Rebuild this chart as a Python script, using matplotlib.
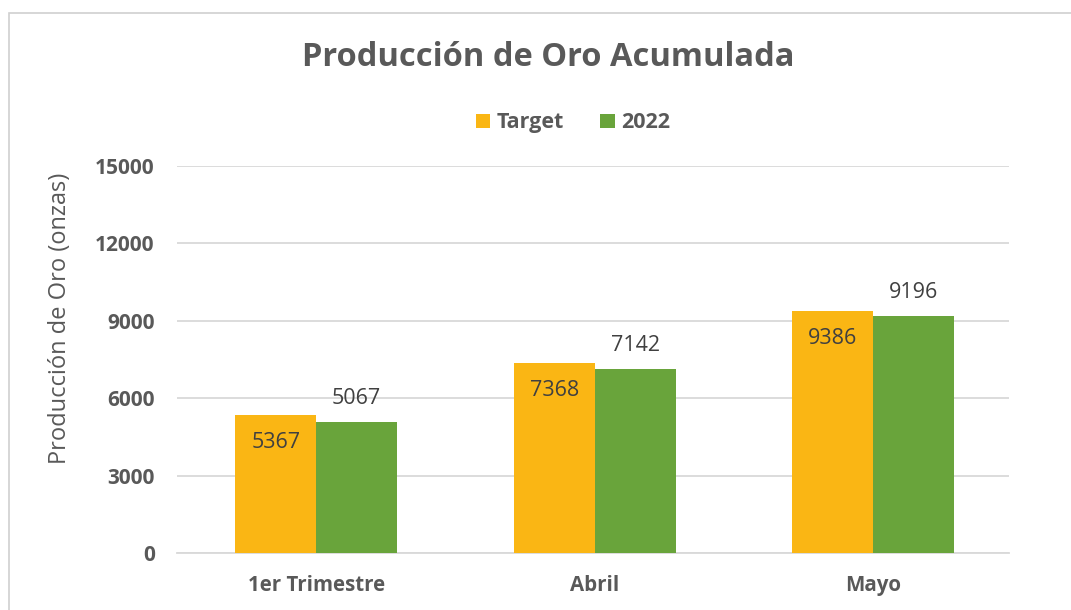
import matplotlib
matplotlib.use('Agg')
import matplotlib.pyplot as plt
from matplotlib.patches import Rectangle
import numpy as np

categories = ['1er Trimestre', 'Abril', 'Mayo']
target = [5367, 7368, 9386]
real_2022 = [5067, 7142, 9196]
yticks = [0, 3000, 6000, 9000, 12000, 15000]

plt.rcParams['font.family'] = ['Open Sans', 'DejaVu Sans']

fig = plt.figure(figsize=(10.71, 6.10), dpi=100)
ax = fig.add_axes([177/1071, 57/610, 832/1071, 387/610])

# chart border (left + top visible)
fig.patches.append(Rectangle((9/1071, -0.1), 1.2, 1.1 - 13/610, transform=fig.transFigure,
                             fill=False, edgecolor='#d0d0d0', linewidth=1.2))

x = np.arange(len(categories))
w = 0.291
bT = ax.bar(x - w/2, target, w, color='#FAB614', label='Target', zorder=3)
b22 = ax.bar(x + w/2, real_2022, w, color='#69A43B', label='2022', zorder=3)

for rect, v in zip(bT, target):
    ax.annotate(f'{v}', (rect.get_x() + rect.get_width()/2, v), xytext=(0, -20),
                textcoords='offset points', ha='center', va='center',
                fontsize=15.5, color='#404040')
for rect, v in zip(b22, real_2022):
    ax.annotate(f'{v}', (rect.get_x() + rect.get_width()/2, v), xytext=(0, 17),
                textcoords='offset points', ha='center', va='center',
                fontsize=15.5, color='#404040')

ax.set_xlim(-0.5, 2.488)
ax.set_ylim(0, 15000)
ax.set_yticks(yticks)
ax.set_yticklabels([str(t) for t in yticks], fontsize=15, fontweight='bold', color='#595959')
ax.set_xticks(x)
ax.set_xticklabels(categories, fontsize=14.8, fontweight='bold', color='#595959')
ax.tick_params(axis='y', length=0, pad=16)
ax.tick_params(axis='x', length=0, pad=16)
ax.grid(axis='y', color='#d9d9d9', linewidth=1.3, zorder=0)
for s in ['top', 'right', 'left']:
    ax.spines[s].set_visible(False)
ax.spines['bottom'].set_color('#d9d9d9')
ax.spines['bottom'].set_linewidth(1.3)

fig.text(60/1071, 1 - 318/610, 'Producción de Oro (onzas)', rotation=90, ha='center', va='center',
         fontsize=17, color='#595959')

fig.text(548/1071, 1 - 58/610, 'Producción de Oro Acumulada', ha='center', va='center',
         fontsize=23.5, fontweight='bold', color='#595959')

fig.legend(handles=[bT, b22], labels=['Target', '2022'], loc='center', bbox_to_anchor=(573/1071, 1 - 123/610),
           ncol=2, frameon=False, prop={'weight': 'bold', 'size': 15.5},
           handlelength=0.67, handleheight=0.67, handletextpad=0.3, columnspacing=1.7,
           labelcolor='#595959')

fig.savefig('out.png', dpi=100)
